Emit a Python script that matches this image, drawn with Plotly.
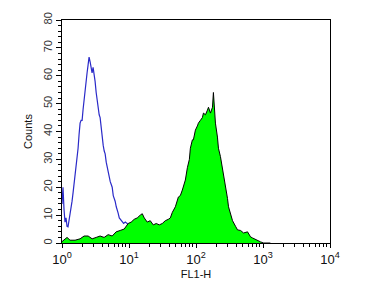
import plotly.graph_objects as go

# Isotype control (blue, unfilled)
blue_fl1 = [1.000, 1.035, 1.072, 1.109, 1.148, 1.189, 1.230, 1.274, 1.318, 1.365,
            1.413, 1.462, 1.514, 1.567, 1.622, 1.679, 1.738, 1.799, 1.862, 1.928,
            1.995, 2.065, 2.138, 2.208, 2.291, 2.366, 2.455, 2.535, 2.630, 2.723,
            2.812, 2.911, 3.020, 3.119, 3.236, 3.342, 3.467, 3.589, 3.707, 3.846,
            3.972, 4.121, 4.266, 4.406, 4.571, 4.732, 4.887, 5.070, 5.248, 5.433,
            5.610, 5.821, 6.026, 6.209, 6.457, 6.683, 6.887, 7.161, 7.413, 7.907,
            8.318, 8.810, 9.397, 10.00, 11.17, 12.02, 13.18, 14.79, 16.60, 19.95, 25.12]
blue_counts = [14, 20, 12, 7.5, 9, 6, 5.8, 8, 10.7, 12,
               15, 18, 21, 25, 28, 30, 34, 39, 43, 44,
               44, 48, 52, 55, 58, 61, 64, 66.7, 65, 62,
               61, 63, 61, 58, 54, 51, 47, 46, 45, 41,
               38, 35, 33, 32, 29, 27, 25, 23, 22, 21,
               20, 17, 16, 15, 13, 12, 10.7, 9, 8.5, 8,
               7, 7.5, 7, 6.5, 6.4, 4, 3, 2, 1, 0.5, 0]

# Stained sample (green, filled)
green_fl1 = [1.000, 1.072, 1.189, 1.318, 1.567, 1.862, 2.138, 2.455, 2.818, 3.236,
             3.707, 4.256, 4.887, 5.610, 6.427, 7.379, 8.472, 9.727, 10.79, 11.97,
             13.27, 14.72, 15.78, 16.90, 18.71, 20.75, 23.01, 25.53, 28.31, 31.41,
             34.83, 38.64, 41.40, 44.36, 49.20, 54.58, 58.34, 62.52, 66.99, 69.34,
             74.30, 79.62, 82.41, 88.31, 91.41, 97.95, 104.9, 108.6, 116.4, 124.7,
             129.1, 138.4, 148.3, 153.5, 164.4, 176.2, 182.0, 188.4, 195.0, 208.9,
             216.3, 231.7, 248.3, 266.1, 275.4, 295.1, 305.5, 327.3, 350.8, 389.0,
             416.9, 462.4, 512.9, 587.5, 651.6, 698.2, 774.5, 829.8, 920.4, 1021, 1288]
green_counts = [0.5, 1, 2, 1, 1, 1.5, 2.5, 2.5, 1.5, 2,
                2.5, 2, 3, 2.5, 4, 4.5, 5, 7, 7.5, 8.5,
                9, 10, 10.5, 9, 7.5, 8, 6.5, 7, 6.5, 7,
                8, 8.5, 9, 11, 13, 16.5, 17, 19, 21, 22.6,
                27, 30, 34, 37, 37, 40.5, 42, 43, 44, 45,
                46.6, 46, 47.7, 48.7, 46.6, 48.7, 54, 46.6, 43, 38,
                34, 31, 27, 23, 20, 16, 13, 10.7, 8, 6,
                4.7, 4.5, 3.6, 4, 2.2, 1.8, 1.2, 1, 0.4, 0, 0]

x_tickvals = [1, 10, 100, 1000, 10000]
x_ticktext = ["10<sup>0</sup>", "10<sup>1</sup>", "10<sup>2</sup>", "10<sup>3</sup>", "10<sup>4</sup>"]
y_tickvals = [0, 10, 20, 30, 40, 50, 60, 70, 80]

fig = go.Figure()
fig.add_trace(go.Scatter(x=blue_fl1, y=blue_counts, mode="lines",
                         line=dict(color="#2a2ac8", width=1.2), showlegend=False))
fig.add_trace(go.Scatter(x=green_fl1, y=green_counts, mode="lines", fill="tozeroy",
                         fillcolor="#00ff00", line=dict(color="black", width=1),
                         showlegend=False))

font = "Liberation Sans, Arial, sans-serif"
fig.update_layout(
    width=375, height=293,
    margin=dict(l=62, r=45, t=20, b=50),
    paper_bgcolor="white", plot_bgcolor="white",
    font=dict(family=font, size=11, color="#111"),
    xaxis=dict(type="log", range=[0, 4], showgrid=False, zeroline=False,
               showline=True, linecolor="black", linewidth=1, mirror=True,
               ticks="outside", ticklen=4, tickcolor="black",
               tickvals=x_tickvals, ticktext=x_ticktext,
               tickfont=dict(size=13, color="#111"),
               minor=dict(ticks="outside", ticklen=3, tickcolor="black",
                          dtick="D1", showgrid=False),
               title=dict(text="FL1-H", font=dict(size=11, color="#111"), standoff=4)),
    yaxis=dict(range=[0, 80], showgrid=False, zeroline=False,
               showline=True, linecolor="black", linewidth=1, mirror=True,
               ticks="outside", ticklen=5, tickcolor="black",
               tickvals=y_tickvals, tickangle=-90,
               tickfont=dict(size=11, color="#333"),
               minor=dict(ticks="outside", ticklen=3, tickcolor="black",
                          dtick=2, showgrid=False),
               title=dict(text="Counts", font=dict(size=11, color="#111"), standoff=6)),
)

fig.write_html("out.html")
